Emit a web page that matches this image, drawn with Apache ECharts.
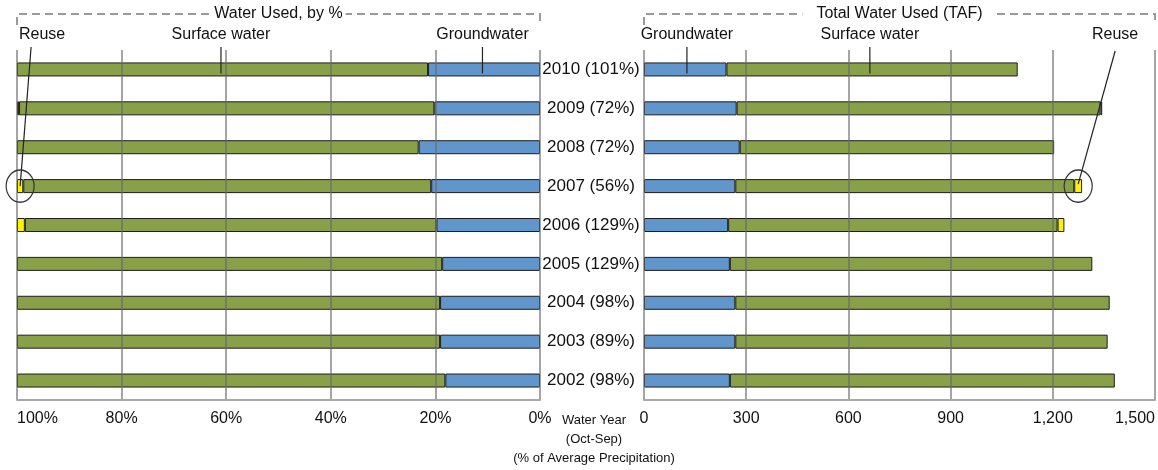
<!DOCTYPE html>
<html><head><meta charset="utf-8">
<script src="https://cdn.jsdelivr.net/npm/echarts@6/dist/echarts.min.js"></script>
<style>html,body{margin:0;padding:0;background:#fff}#c{width:1158px;height:470px}</style>
</head><body><div id="c"></div>
<script>
// ---- data (top row first) ----
const years = ['2010','2009','2008','2007','2006','2005','2004','2003','2002'];
const precipPct = ['101%','72%','72%','56%','129%','129%','98%','89%','98%'];
// Left panel: Water Used, by %
const pctGroundwater = [21.4, 20.2, 23.2, 20.8, 19.8, 18.7, 19.1, 19.1, 18.1];
const pctSurface     = [78.6, 79.4, 76.8, 78.0, 78.7, 81.3, 80.9, 80.9, 81.9];
const pctReuse       = [0, 0.4, 0, 1.2, 1.5, 0, 0, 0, 0];
// Right panel: Total Water Used (TAF)
const tafGroundwater = [242, 272, 281, 268, 247, 252, 268, 268, 252];
const tafSurface     = [855, 1068, 923, 995, 967, 1064, 1099, 1093, 1130];
const tafReuse       = [0, 5, 0, 23, 20, 0, 0, 0, 0];
// axis ranges
const pctAxis = {min: 0, max: 100, interval: 20};
const tafAxis = {min: 0, max: 1500, interval: 300};

const FONT = '"Liberation Sans", Arial, sans-serif';
const C_GW = '#6096cc', C_SW = '#88a148', C_RE = '#fff200', C_BORDER = '#1c1c1c';
const nz = a => a.map(v => v ? v : null);

const chart = echarts.init(document.getElementById('c'), null, {renderer: 'canvas'});

function xAx(idx, rng, fmt, inverse, alignMax) {
  return {
    type: 'value', gridIndex: idx, min: rng.min, max: rng.max, interval: rng.interval,
    inverse: inverse, z: 5,
    axisLine: {show: true, onZero: false, lineStyle: {color: '#a8a8a8', width: 2}},
    axisTick: {show: false},
    splitLine: {show: true, lineStyle: {color: 'rgba(105,105,105,0.6)', width: 2}},
    axisLabel: {fontFamily: FONT, fontSize: 16, color: '#111', margin: 11,
      formatter: fmt, alignMaxLabel: alignMax}
  };
}
function yAx(idx, showLabel) {
  return {
    type: 'category', gridIndex: idx, data: years, inverse: true,
    axisLine: {show: false}, axisTick: {show: false}, splitLine: {show: false},
    axisLabel: {show: showLabel, fontFamily: FONT, fontSize: 17, color: '#111',
      align: 'center', margin: 53,
      formatter: (v, i) => v + ' (' + precipPct[i] + ')'}
  };
}
function bar(name, data, color, stack, ai) {
  return {
    name: name, type: 'bar', stack: stack, xAxisIndex: ai, yAxisIndex: ai,
    data: nz(data), barWidth: 14, z: 2,
    itemStyle: {color: color, borderColor: C_BORDER, borderWidth: 1},
    emphasis: {disabled: true}
  };
}

chart.setOption({
  animation: false,
  grid: [
    {left: 17, right: 618, top: 50, bottom: 70},
    {left: 644, right: 3, top: 50, bottom: 70}
  ],
  xAxis: [
    xAx(0, pctAxis, '{value}%', true, 'left'),
    xAx(1, tafAxis, v => v.toLocaleString('en-US'), false, 'right')
  ],
  yAxis: [yAx(0, false), yAx(1, true)],
  series: [
    bar('Groundwater', pctGroundwater, C_GW, 'L', 0),
    bar('Surface water', pctSurface, C_SW, 'L', 0),
    bar('Reuse', pctReuse, C_RE, 'L', 0),
    bar('Groundwater', tafGroundwater, C_GW, 'R', 1),
    bar('Surface water', tafSurface, C_SW, 'R', 1),
    bar('Reuse', tafReuse, C_RE, 'R', 1)
  ]
});

// ---- annotations positioned from the chart's own scales ----
const px = (ai, v) => chart.convertToPixel({xAxisIndex: ai}, v);
const py = (ai, c) => chart.convertToPixel({yAxisIndex: ai}, c);
const L0 = px(0, 100), L1 = px(0, 0), R0 = px(1, 0), R1 = px(1, 1500);
const yTop = py(0, '2010'), y07 = py(0, '2007');
const i07 = years.indexOf('2007');
const reuseL = px(0, 100 - pctReuse[i07] / 2);
const reuseR = px(1, tafGroundwater[i07] + tafSurface[i07] + tafReuse[i07] / 2);

const dash = {stroke: '#9a9a9a', lineWidth: 2, lineDash: [8, 5], fill: null};
const txt = (x, y, s, extra) => ({type: 'text', x: x, y: y, z: 20,
  style: Object.assign({text: s, font: '16px ' + FONT, fill: '#111',
    textAlign: 'center', textVerticalAlign: 'middle'}, extra || {})});
const lead = (x1, y1, x2, y2) => ({type: 'line', z: 20,
  shape: {x1: x1, y1: y1, x2: x2, y2: y2}, style: {stroke: '#222', lineWidth: 1.2}});
const ring = (x, y) => ({type: 'circle', z: 20, x: x, y: y, scaleY: 1.15,
  shape: {cx: 0, cy: 0, r: 14}, style: {stroke: '#333', lineWidth: 1.2, fill: null}});

const labY = 35, leadTop = 47;
const xSWl = px(0, 61), xGWl = px(0, 11), xREl = px(0, 95.2);
const xGWr = px(1, 126), xSWr = px(1, 663), xRer = px(1, 1383);

chart.setOption({
  graphic: [
    {type: 'polyline', z: 15, shape: {points: [[L0, 25], [L0, 14], [L1, 14], [L1, 25]]}, style: dash},
    {type: 'polyline', z: 15, shape: {points: [[R0, 25], [R0, 14], [R1, 14], [R1, 25]]}, style: dash},
    txt((L0 + L1) / 2, 14, 'Water Used, by %', {backgroundColor: '#fff', padding: [1, 3]}),
    txt((R0 + R1) / 2, 14, 'Total Water Used (TAF)', {backgroundColor: '#fff', padding: [1, 14]}),
    txt(xREl, labY, 'Reuse'),
    txt(xSWl, labY, 'Surface water'),
    txt(xGWl, labY, 'Groundwater'),
    txt(xGWr, labY, 'Groundwater'),
    txt(xSWr, labY, 'Surface water'),
    txt(xRer, labY, 'Reuse'),
    lead(xSWl, leadTop, xSWl, yTop + 4),
    lead(xGWl, leadTop, xGWl, yTop + 4),
    lead(xGWr, leadTop, xGWr, yTop + 4),
    lead(xSWr, leadTop, xSWr, yTop + 4),
    lead(xREl - 11, leadTop, reuseL, y07),
    lead(xRer, leadTop + 4, reuseR, y07 - 2),
    ring(reuseL, y07),
    ring(reuseR, y07),
    {type: 'text', z: 20, x: (L1 + R0) / 2 + 2, y: 411,
      style: {text: 'Water Year\n(Oct-Sep)\n(% of Average Precipitation)',
        font: '13px ' + FONT, fill: '#111', textAlign: 'center', lineHeight: 19}}
  ]
});
</script></body></html>
